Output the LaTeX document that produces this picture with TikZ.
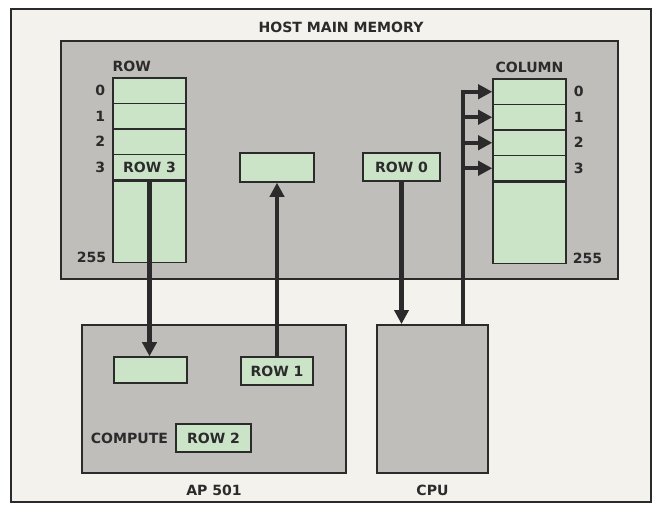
\documentclass[tikz,border=0pt]{standalone}
\usepackage{fontspec}
\setmainfont{DejaVu Sans}
\usetikzlibrary{arrows.meta,positioning,calc}
\definecolor{paper}{HTML}{F4F2EC}
\definecolor{slab}{HTML}{C0BEBB}
\definecolor{mint}{HTML}{CBE4C8}
\definecolor{ink}{HTML}{2B2B2B}

\begin{document}
\begin{tikzpicture}[
    x=0.03cm, y=-0.03cm,
    block/.style={draw=ink, line width=1.5pt, fill=slab, inner sep=0pt},
    cell/.style={draw=ink, line width=1.2pt, fill=mint, inner sep=0pt, minimum width=2.19cm, minimum height=0.765cm, font=\bfseries\fontsize{12}{14}\selectfont, text=ink},
    lbl/.style={font=\bfseries\fontsize{12}{14}\selectfont, text=ink, inner sep=0pt},
    wire/.style={draw=ink, line width=3.6pt, -{Triangle[length=12pt,width=12pt]}},
  ]
  \useasboundingbox (0,0) rectangle (653,506);
  \fill[white] (0,0) rectangle (653,506);
  \draw[ink, line width=1.2pt, fill=paper] (11,9) rectangle (651,502);

  % host memory
  \node[lbl] (title) at (341,27) {HOST MAIN MEMORY};
  \node[block, minimum width=16.71cm, minimum height=7.14cm] (host) at (339.5,160) {};

  % row array
  \foreach \i/\t in {0/{},1/{},2/{},3/ROW 3} {
    \node[cell] (r\i) at (149.5, 90.75+25.5*\i) {\t};
    \node[lbl, left=6pt of r\i.west] (rn\i) {\i};
  }
  \node[cell, minimum height=2.43cm, anchor=north] (rrest) at (r3.south) {};
  \node[lbl, anchor=south east] (rlast) at ([xshift=-5pt]rrest.south west) {255};
  \node[lbl, anchor=south west] (rhead) at ([yshift=5pt]r0.north west) {ROW};

  % column array
  \foreach \i in {0,...,3} {
    \node[cell] (c\i) at (529.5, 91.75+25.5*\i) {};
    \node[lbl, right=6pt of c\i.east] (cn\i) {\i};
  }
  \node[cell, minimum height=2.43cm, anchor=north] (crest) at (c3.south) {};
  \node[lbl, anchor=south west] (clast) at ([xshift=5pt]crest.south east) {255};
  \node[lbl, anchor=south] (chead) at ([yshift=5pt]c0.north) {COLUMN};

  \node[cell, minimum width=2.22cm, minimum height=0.87cm] (buf) at (277,167.5) {};
  \node[cell, minimum width=2.31cm, minimum height=0.84cm] (row0) at (401.5,167) {ROW 0};

  % AP 501
  \node[block, minimum width=7.92cm, minimum height=4.44cm] (ap) at (214,399) {};
  \node[cell, minimum width=2.19cm, minimum height=0.78cm] (apin) at (150.5,370) {};
  \node[cell, minimum width=2.16cm, minimum height=0.84cm] (row1) at (277,371) {ROW 1};
  \node[cell, minimum width=2.25cm, minimum height=0.84cm] (row2) at (213.5,438) {ROW 2};
  \node[lbl, left=6pt of row2] (compute) {COMPUTE};
  \node[lbl, below=9pt of ap] (aplbl) {AP 501};

  % CPU
  \node[block, minimum width=3.33cm, minimum height=4.44cm] (cpu) at (432.5,399) {};
  \node[lbl, below=9pt of cpu] (cpulbl) {CPU};

  % transfers
  \draw[wire] (r3.south) -- (r3.south |- apin.north);
  \draw[wire] (row1.north) -- (row1.north |- buf.south);
  \draw[wire] (row0.south) -- (row0.south |- cpu.north);
  \coordinate (tap) at ($(cpu.north)+(30.5,0)$);
  \draw[wire] (tap) -- (tap |- c0.west) -- (c0.west);
  \foreach \i in {1,...,3}
    \draw[wire] (tap |- c\i.west) -- (c\i.west);
\end{tikzpicture}
\end{document}
